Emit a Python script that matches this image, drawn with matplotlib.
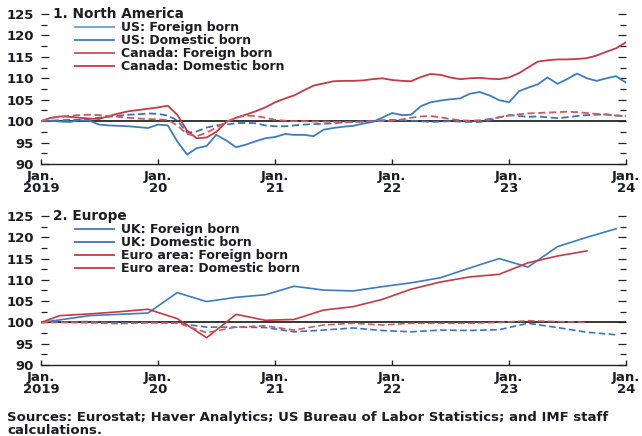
import matplotlib
matplotlib.use("Agg")
import matplotlib.pyplot as plt
from matplotlib.lines import Line2D
from matplotlib.ticker import MultipleLocator
import pandas as pd

plt.rcParams['font.family'] = ['DejaVu Sans']
plt.rcParams['font.weight'] = 'bold'

# ---------------- Data ----------------
months = pd.date_range('2019-01-01', '2024-01-01', freq='MS')

us_foreign = [100.0, 100.1, 99.9, 99.8, 100.2, 100.1, 99.2, 99.0, 98.9, 98.8,
              98.6, 98.4, 99.2, 99.0, 95.3, 92.2, 93.7, 94.2, 96.8, 95.5,
              93.9, 94.5, 95.3, 96.0, 96.3, 97.0, 96.8, 96.8, 96.5, 98.0,
              98.4, 98.7, 98.9, 99.4, 99.8, 100.8, 101.9, 101.4, 101.5, 103.5,
              104.4, 104.8, 105.1, 105.3, 106.4, 106.8, 106.0, 104.9, 104.4, 107.0,
              107.8, 108.6, 110.2, 108.7, 109.8, 111.1, 110.0, 109.4, 110.0, 110.5,
              109.0]
us_domestic = [100.0, 100.1, 100.2, 100.3, 100.3, 100.5, 100.8, 101.0, 101.3, 101.5,
               101.6, 101.8, 101.7, 101.3, 100.2, 97.3, 97.6, 98.5, 99.0, 99.2,
               99.5, 99.6, 99.5, 99.0, 98.8, 98.8, 99.0, 99.2, 99.3, 99.4,
               99.5, 99.7, 99.8, 99.9, 100.0, 100.2, 100.3, 100.2, 100.1, 100.0,
               99.8, 99.9, 100.0, 99.9, 99.8, 99.8, 100.2, 100.9, 101.4, 101.2,
               101.0, 101.1, 100.9, 100.7, 100.9, 101.2, 101.4, 101.5, 101.6, 101.3,
               101.2]
canada_foreign = [100.0, 100.8, 101.1, 101.0, 100.8, 100.6, 100.5, 101.2, 101.8, 102.3,
                  102.6, 102.9, 103.2, 103.6, 101.5, 97.8, 96.0, 96.2, 97.5, 99.8,
                  100.8, 101.5, 102.3, 103.2, 104.4, 105.3, 106.0, 107.2, 108.3, 108.8,
                  109.3, 109.4, 109.4, 109.5, 109.8, 110.0, 109.6, 109.4, 109.3, 110.3,
                  111.0, 110.8, 110.2, 109.8, 110.0, 110.1, 109.9, 109.8, 110.2, 111.2,
                  112.5, 113.9, 114.2, 114.4, 114.4, 114.5, 114.7, 115.3, 116.2, 117.0,
                  118.4]
canada_domestic = [100.0, 100.7, 101.0, 101.3, 101.4, 101.5, 101.4, 101.2, 101.0, 100.8,
                   100.6, 100.5, 100.4, 100.3, 99.0, 97.0, 96.5, 97.3, 98.5, 99.8,
                   100.8, 101.3, 101.2, 100.8, 100.3, 100.1, 100.0, 100.0, 99.9, 99.9,
                   99.8, 99.8, 99.8, 99.9, 100.0, 100.0, 100.1, 100.4, 100.8, 101.1,
                   101.2, 100.9, 100.5, 100.2, 100.1, 100.2, 100.5, 100.9, 101.3, 101.6,
                   101.8, 101.9, 102.0, 102.1, 102.2, 102.1, 101.9, 101.7, 101.5, 101.3,
                   101.2]

uk_dates = pd.to_datetime(['2019-01-01'] + [f'{y}-{m:02d}-01' for y in range(2019, 2024)
                                             for m in (3, 6, 9, 12)])
uk_foreign = [100.0, 100.6, 101.6, 101.9, 102.2, 107.0, 104.9, 105.9, 106.5, 108.5,
              107.6, 107.4, 108.4, 109.3, 110.5, 112.8, 115.0, 113.0, 117.8, 120.0,
              122.0]
uk_domestic = [100.0, 100.1, 100.2, 99.9, 100.0, 99.8, 98.9, 98.9, 98.8, 97.8,
               98.2, 98.7, 98.1, 97.8, 98.2, 98.1, 98.3, 99.8, 98.8, 97.7,
               97.1]
ea_dates = uk_dates[:-1]
ea_foreign = [100.0, 101.6, 102.0, 102.5, 103.1, 100.9, 96.4, 101.9, 100.5, 100.7,
              102.9, 103.7, 105.4, 107.8, 109.5, 110.7, 111.3, 114.0, 115.6, 116.8]
ea_domestic = [100.0, 100.0, 99.9, 99.7, 99.9, 99.9, 97.6, 98.9, 99.2, 98.2,
               99.4, 99.8, 99.4, 99.8, 99.8, 99.8, 100.0, 100.4, 100.2, 100.0]

year_ticks = pd.date_range('2019-01-01', '2024-01-01', freq='YS')
year_labels = ['Jan.\n2019', 'Jan.\n20', 'Jan.\n21', 'Jan.\n22', 'Jan.\n23', 'Jan.\n24']
y_ticks = [90, 95, 100, 105, 110, 115, 120, 125]

# ---------------- Styling ----------------
BLUE = '#3d7cbf'
BLUE_D = '#3a74b8'
RED = '#c23b45'
RED_D = '#cc5a62'
TXT = '#1c1c24'
FS = 9.5
LFS = 9.0

W, H = 642, 436
fig = plt.figure(figsize=(W / 100, H / 100), dpi=100)
AX_W = 626 - 41


def make_axes(top_px, bottom_px):
    left_px, right_px = 41, 626
    return fig.add_axes([left_px / W, 1 - bottom_px / H,
                         (right_px - left_px) / W, (bottom_px - top_px) / H])


def style(ax, title, legend_labels, legend_colors, leg_top_px, axes_top_px, axes_h_px):
    ax.set_xlim(months[0], months[-1])
    ax.set_ylim(90, 125)
    for s in ('left', 'right', 'top'):
        ax.spines[s].set_visible(False)
    ax.spines['bottom'].set_color('#222222')
    ax.spines['bottom'].set_linewidth(1.0)
    ax.axhline(100, color='black', lw=1.1, zorder=1)
    ax.set_yticks(y_ticks)
    ax.set_yticklabels([str(v) for v in y_ticks])
    ax.yaxis.set_minor_locator(MultipleLocator(2.5))
    ax.tick_params(axis='y', which='major', direction='in', length=5.5, width=0.9,
                   left=True, right=True, labelleft=True, labelright=False,
                   labelsize=FS, labelcolor=TXT, color='#222222', pad=5)
    ax.tick_params(axis='y', which='minor', direction='in', length=4.5, width=0.9,
                   left=True, right=True, color='#222222')
    ax.set_xticks(year_ticks)
    ax.set_xticklabels(year_labels)
    ax.tick_params(axis='x', which='major', direction='in', length=3.5, width=1.0,
                   labelsize=FS, labelcolor=TXT, color='#222222', pad=4.5)
    ax.tick_params(axis='x', which='minor', bottom=False)
    for lab in ax.get_xticklabels():
        lab.set_linespacing(0.9)
    ax.text(12 / AX_W, 125, title, transform=ax.get_yaxis_transform(),
            ha='left', va='center', fontsize=FS + 0.3, color=TXT, fontweight='bold')
    handles = [Line2D([], [], color=c, lw=1.3) for c in legend_colors]
    ax.legend(handles, legend_labels, loc='upper left',
              bbox_to_anchor=(34 / AX_W, 1 - (leg_top_px - axes_top_px) / axes_h_px),
              frameon=False, handlelength=3.1, handletextpad=0.55,
              labelspacing=0.0, borderaxespad=0, borderpad=0,
              prop={'size': LFS, 'weight': 'bold'}, labelcolor=TXT)


# ---------------- Panel 1 ----------------
ax1 = make_axes(14, 164)
ax1.plot(months, us_foreign, color=BLUE, lw=1.3, zorder=3)
ax1.plot(months, us_domestic, color=BLUE_D, lw=1.3, ls=(0, (4, 2)), zorder=3)
ax1.plot(months, canada_foreign, color=RED, lw=1.3, zorder=3)
ax1.plot(months, canada_domestic, color=RED_D, lw=1.3, ls=(0, (4, 2)), zorder=3)
style(ax1, '1. North America',
      ['US: Foreign born', 'US: Domestic born', 'Canada: Foreign born', 'Canada: Domestic born'],
      ['#6a9fd2', '#3d7cbf', '#d0505a', '#c23b45'], 21, 14, 150)

# ---------------- Panel 2 ----------------
ax2 = make_axes(216, 365)
ax2.plot(uk_dates, uk_foreign, color=BLUE, lw=1.2, zorder=3)
ax2.plot(uk_dates, uk_domestic, color=BLUE_D, lw=1.2, ls=(0, (4, 2)), zorder=3)
ax2.plot(ea_dates, ea_foreign, color=RED, lw=1.2, zorder=3)
ax2.plot(ea_dates, ea_domestic, color=RED_D, lw=1.2, ls=(0, (4, 2)), zorder=3)
style(ax2, '2. Europe',
      ['UK: Foreign born', 'UK: Domestic born', 'Euro area: Foreign born', 'Euro area: Domestic born'],
      ['#3d7cbf', '#3a74b8', '#c23b45', '#c23b45'], 223, 216, 149)

fig.text(7 / W, 1 - 411 / H,
         'Sources: Eurostat; Haver Analytics; US Bureau of Labor Statistics; and IMF staff\ncalculations.',
         ha='left', va='top', fontsize=FS, color=TXT, linespacing=1.0)

fig.savefig('out.png', dpi=100)
